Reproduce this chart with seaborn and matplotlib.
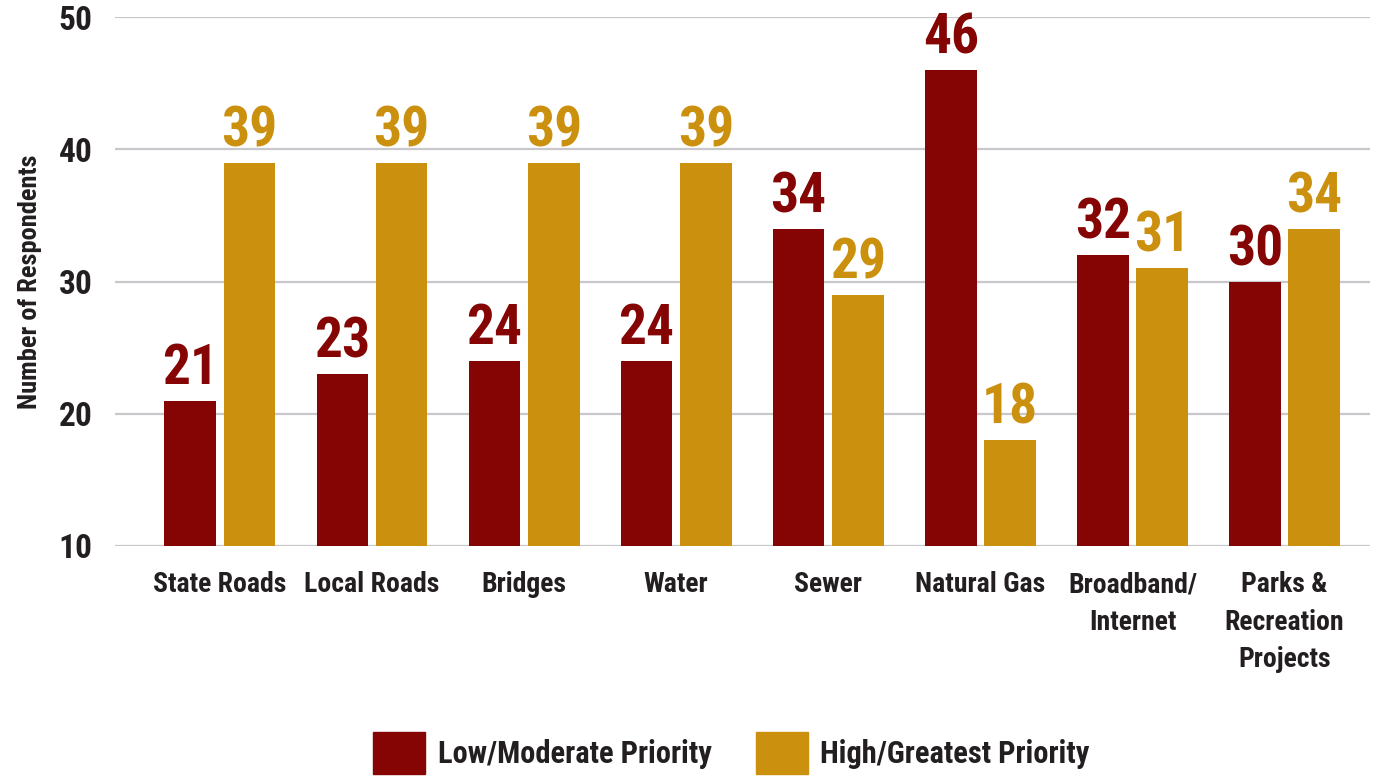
import pandas as pd
import seaborn as sns
from matplotlib import pyplot as plt
from matplotlib import font_manager

categories = ["State Roads", "Local Roads", "Bridges", "Water", "Sewer",
              "Natural Gas", "Broadband/\nInternet", "Parks &\nRecreation\nProjects"]
low_moderate = [21, 23, 24, 24, 34, 46, 32, 30]
high_greatest = [39, 39, 39, 39, 29, 18, 31, 34]
series_names = ["Low/Moderate Priority", "High/Greatest Priority"]
colors = ["#850505", "#CB900E"]

# pick a narrow font if one is around, the original uses a condensed face
available = {f.name: f for f in font_manager.fontManager.ttflist}
condensed = [f.name for f in font_manager.fontManager.ttflist
             if f.stretch in ("condensed", "semi-condensed", "extra-condensed")]
font = "DejaVu Sans"
for cand in ["Roboto Condensed", "Liberation Sans Narrow", "Open Sans Condensed",
             "DejaVu Sans Condensed", "Noto Sans Condensed"]:
    if cand in available:
        font = cand
        break
else:
    if condensed:
        font = condensed[0]

sns.set_theme(style="white")
plt.rcParams["font.family"] = [font, "DejaVu Sans"]

df = pd.DataFrame({
    "Category": categories * 2,
    "Respondents": low_moderate + high_greatest,
    "Priority": [series_names[0]] * len(categories) + [series_names[1]] * len(categories),
})

fig, ax = plt.subplots(figsize=(13.85, 7.8), dpi=100)
fig.subplots_adjust(left=0.083, right=0.989, bottom=0.30, top=0.978)

sns.barplot(data=df, x="Category", y="Respondents", hue="Priority",
            order=categories, hue_order=series_names,
            palette=colors, width=0.78, gap=0.13, saturation=1,
            linewidth=0, ax=ax, legend=False)

for container, c in zip(ax.containers, colors):
    ax.bar_label(container, padding=4, color=c, fontsize=40, fontweight="bold")

ax.set_ylim(10, 50)
ax.set_yticks([10, 20, 30, 40, 50])
ax.set_xlim(-0.69, 7.56)
ax.grid(axis="y", color="#C8C8CC", linewidth=1.6)
ax.set_axisbelow(True)
sns.despine(ax=ax, left=True, bottom=True)

ax.tick_params(axis="y", length=0, pad=16, labelsize=24, labelcolor="#231F20")
ax.tick_params(axis="x", length=0, pad=18, labelsize=20, labelcolor="#231F20")
for lbl in ax.get_xticklabels() + ax.get_yticklabels():
    lbl.set_fontweight("bold")
for lbl in ax.get_xticklabels():
    lbl.set_linespacing(1.5)

ax.set_xlabel("")
ax.set_ylabel("Number of Respondents", fontsize=19, fontweight="bold",
              color="#231F20", labelpad=12)

handles = [plt.Rectangle((0, 0), 1, 1, color=c) for c in colors]
leg = fig.legend(handles, series_names, loc="lower center", bbox_to_anchor=(0.528, -0.028),
                 ncol=2, frameon=False, fontsize=22, handlelength=1.7, handleheight=1.75,
                 handletextpad=0.42, columnspacing=1.45)
for t in leg.get_texts():
    t.set_fontweight("bold")
    t.set_color("#231F20")

fig.savefig("out.png", dpi=100)
